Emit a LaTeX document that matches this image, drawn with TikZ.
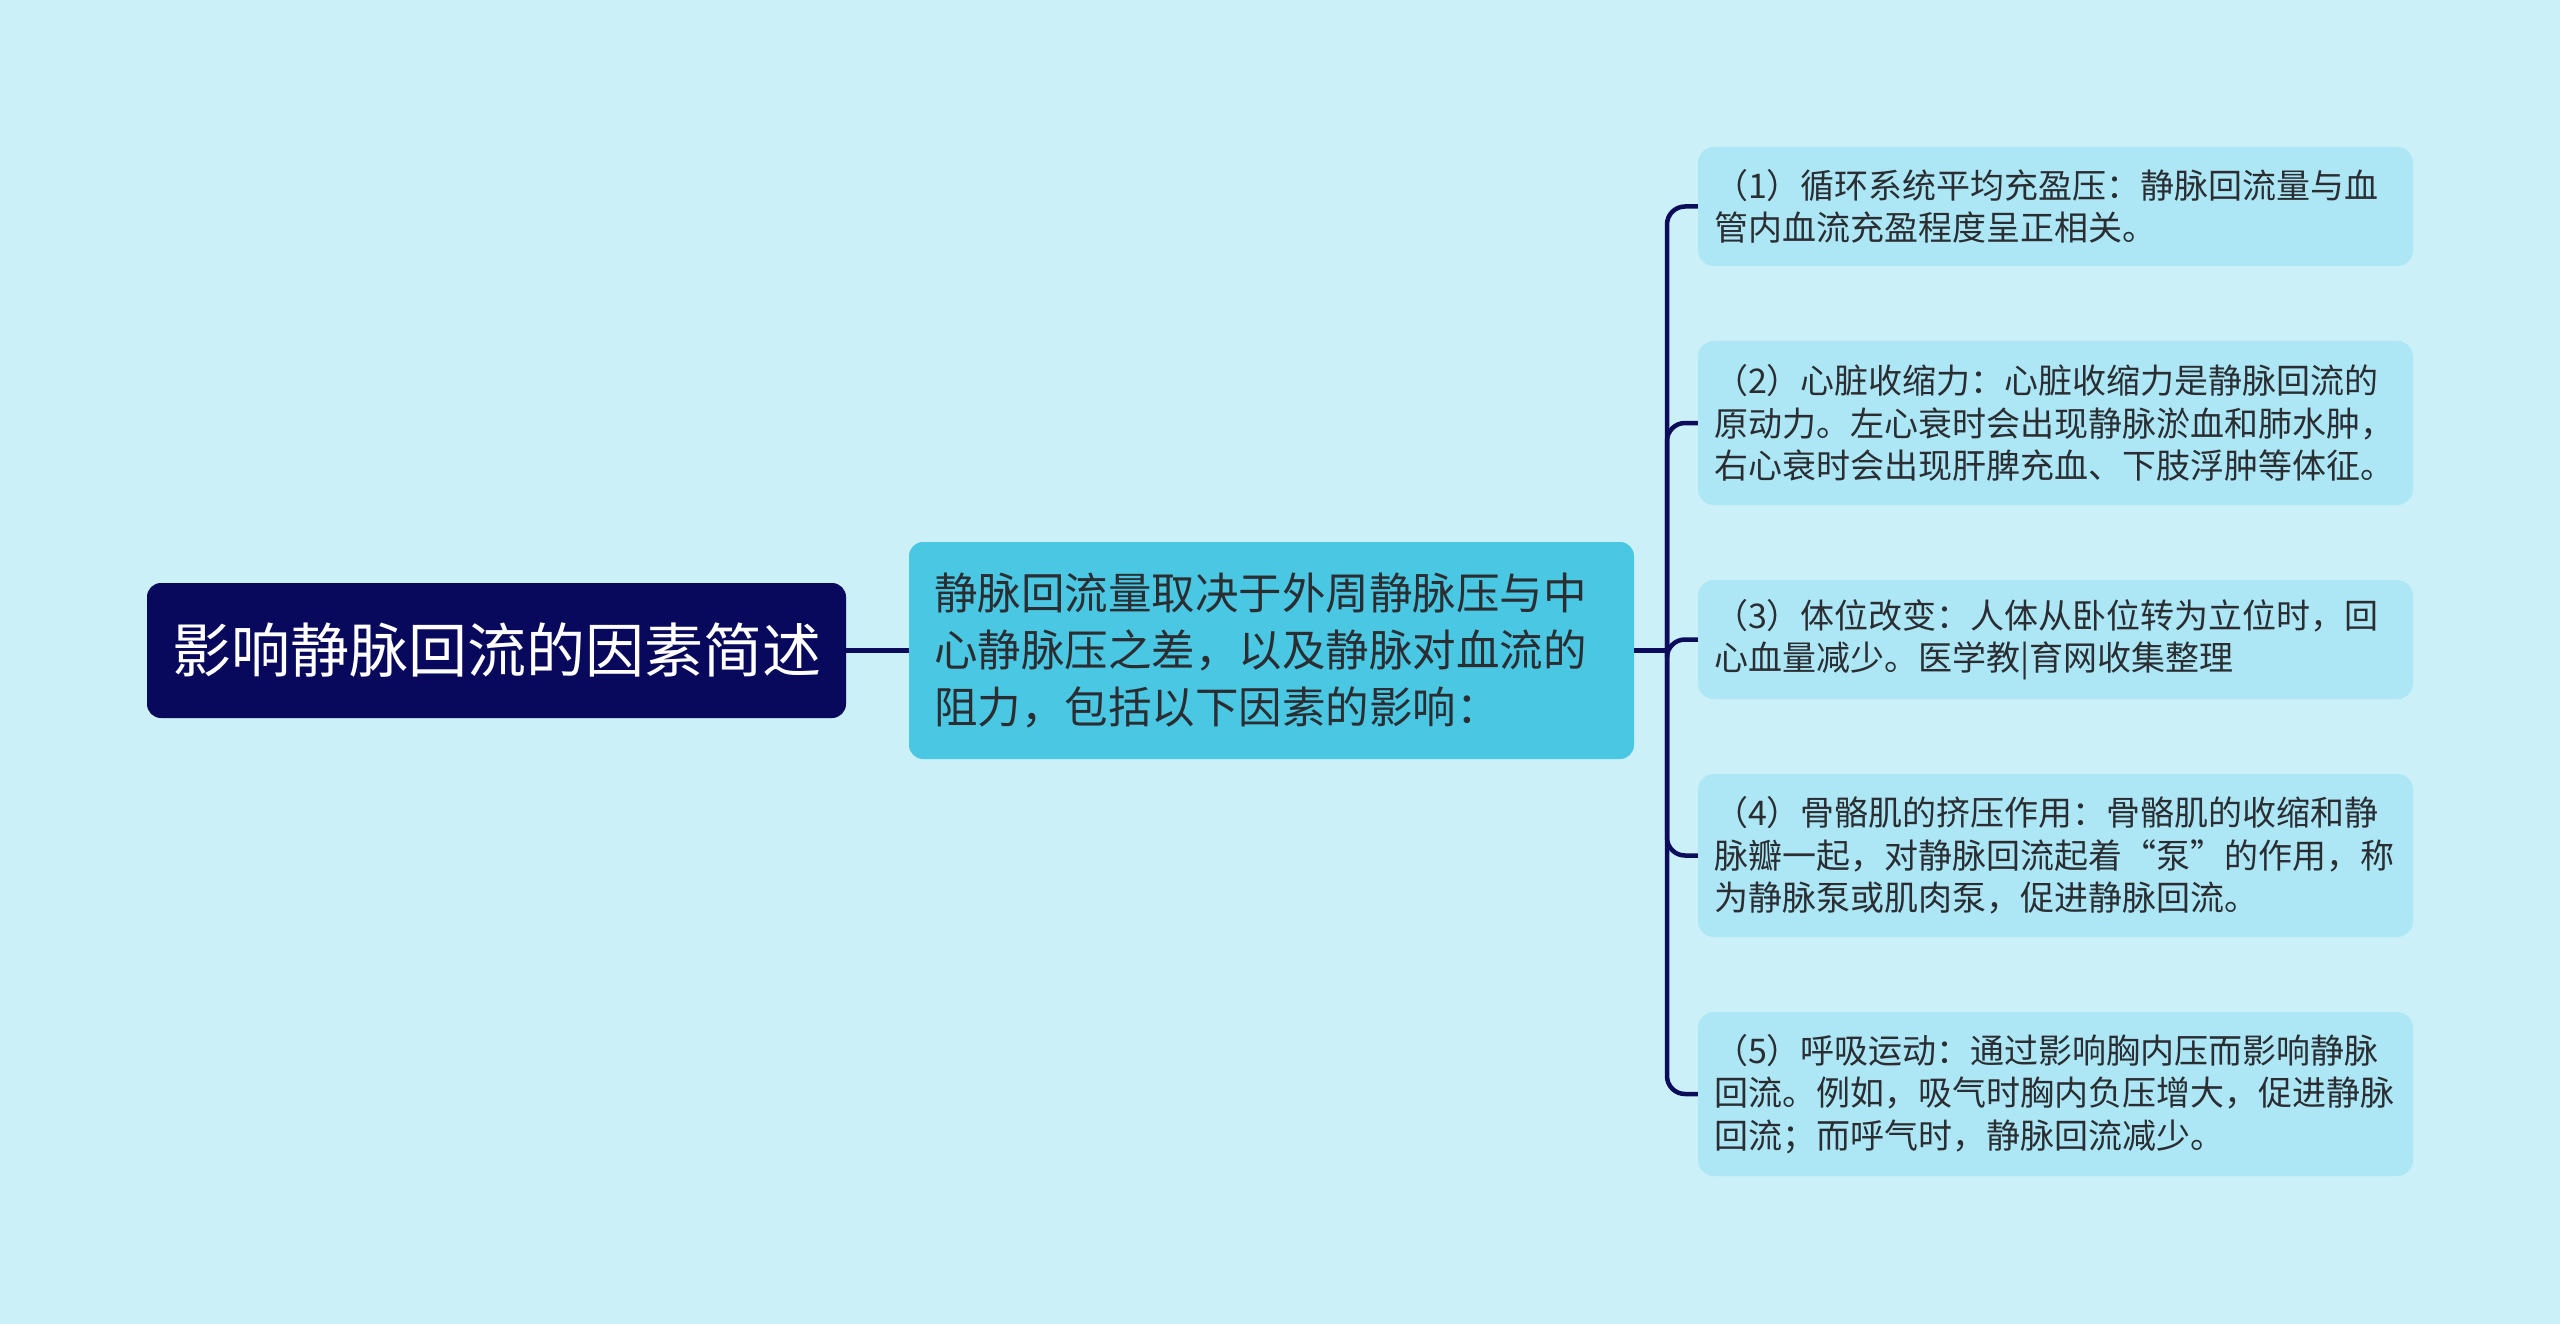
\documentclass[tikz,border=0pt]{standalone}
\usepackage{fontspec}
\setmainfont{Noto Sans CJK SC}
\definecolor{bgc}{HTML}{CBF0F8}
\definecolor{rootc}{HTML}{08085C}
\definecolor{midc}{HTML}{4AC8E3}
\definecolor{childc}{HTML}{ADE6F4}
\definecolor{linec}{HTML}{0C0C5A}
\definecolor{textc}{HTML}{2A2E33}
\tikzset{
  rootbox/.style={fill=rootc, rounded corners=14pt, text=white, align=center,
    minimum width=699pt, minimum height=135pt, inner sep=0pt,
    font=\fontsize{59}{66}\selectfont},
  midbox/.style={fill=midc, rounded corners=14pt, text=textc, align=left,
    text width=675pt, inner xsep=25pt, inner ysep=0pt, minimum height=217pt,
    font=\fontsize{43.5}{57}\selectfont},
  childbox/.style={fill=childc, rounded corners=16pt, text=textc, align=left,
    text width=683pt, inner xsep=16pt, inner ysep=0pt,
    font=\fontsize{34}{42.5}\selectfont},
  conn/.style={draw=linec, line width=4.5pt},
}
\begin{document}
\begin{tikzpicture}[x=1pt,y=1pt]
\fill[bgc] (0,0) rectangle (2560,-1324);
\useasboundingbox (0,0) rectangle (2560,-1324);

\node[rootbox] (root) at (496.5,-650.5) {影响静脉回流的因素简述};
\node[midbox] (mid) at (1271.5,-650.5) {静脉回流量取决于外周静脉压与中\\心静脉压之差，以及静脉对血流的\\阻力，包括以下因素的影响：};

\node[childbox, minimum height=119pt] (c1) at (2055.5,-206.5) {（1）循环系统平均充盈压：静脉回流量与血\\管内血流充盈程度呈正相关。};
\node[childbox, minimum height=164pt] (c2) at (2055.5,-423) {（2）心脏收缩力：心脏收缩力是静脉回流的\\原动力。左心衰时会出现静脉淤血和肺水肿，\\右心衰时会出现肝脾充血、下肢浮肿等体征。};
\node[childbox, minimum height=119pt] (c3) at (2055.5,-639.5) {（3）体位改变：人体从卧位转为立位时，回\\心血量减少。医学教|育网收集整理};
\node[childbox, minimum height=163pt] (c4) at (2055.5,-855.5) {（4）骨骼肌的挤压作用：骨骼肌的收缩和静\\脉瓣一起，对静脉回流起着“泵”的作用，称\\为静脉泵或肌肉泵，促进静脉回流。};
\node[childbox, minimum height=164pt] (c5) at (2055.5,-1094) {（5）呼吸运动：通过影响胸内压而影响静脉\\回流。例如，吸气时胸内负压增大，促进静脉\\回流；而呼气时，静脉回流减少。};

\coordinate (j) at (1667,-650.5);
\draw[conn] (root.east) -- (mid.west);
\draw[conn] (mid.east) -- (j);
\foreach \c in {c1,c2,c3,c4,c5}{
  \draw[conn, rounded corners=18pt] (j) |- (\c.west);
}
\end{tikzpicture}
\end{document}
